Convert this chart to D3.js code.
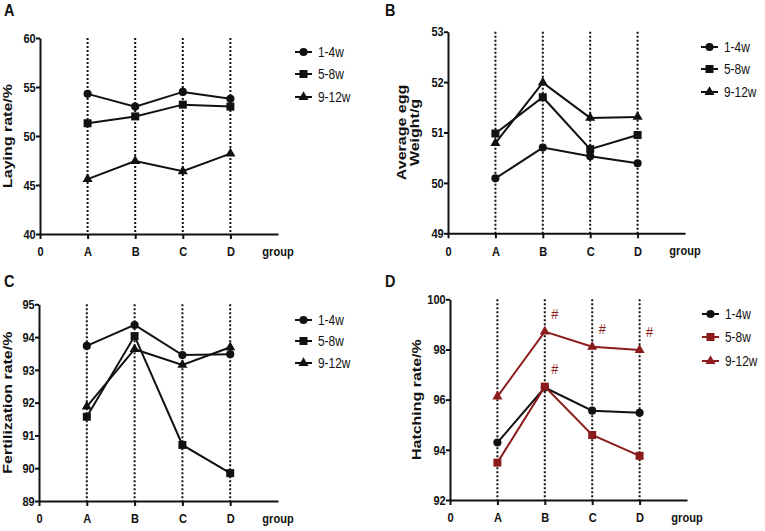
<!DOCTYPE html>
<html>
<head>
<meta charset="utf-8">
<script src="https://cdn.jsdelivr.net/npm/d3@7"></script>
<style>
  html, body { margin: 0; padding: 0; background: #fff; }
  svg { display: block; }
  text { font-family: "Liberation Sans", Arial, sans-serif; }
</style>
</head>
<body>
<svg id="chart" width="765" height="531"></svg>
<script>
// ---------- DATA ----------
const groups = ["A", "B", "C", "D"];
const xTickLabels = ["0", "A", "B", "C", "D"];
const seriesNames = ["1-4w", "5-8w", "9-12w"];

// rows: 1-4w, 5-8w, 9-12w ; columns: A, B, C, D
const layingRate = [
  [54.3, 53.0, 54.5, 53.8],
  [51.3, 52.0, 53.2, 53.0],
  [45.6, 47.45, 46.4, 48.2]
];
const eggWeight = [
  [50.09, 50.70, 50.53, 50.39],
  [50.98, 51.70, 50.67, 50.95],
  [50.79, 51.99, 51.29, 51.31]
];
const fertilizationRate = [
  [93.73, 94.37, 93.45, 93.48],
  [91.57, 94.03, 90.71, 89.85],
  [91.88, 93.63, 93.15, 93.69]
];
const hatchingRate = [
  [94.29, 96.48, 95.56, 95.48],
  [93.49, 96.52, 94.59, 93.76],
  [96.12, 98.71, 98.11, 97.98]
];

const ticksA = [40, 45, 50, 55, 60];
const ticksB = [49, 50, 51, 52, 53];
const ticksC = [89, 90, 91, 92, 93, 94, 95];
const ticksD = [92, 94, 96, 98, 100];

// significance marks in panel D: series index, group
const hashSeries = [2, 2, 2, 1];
const hashGroups = ["B", "C", "D", "B"];

// ---------- DRAW ----------
const svg = d3.select("#chart");
const RED = "#8c1c1c";
const SX = 0.85; // horizontal condensing of text

const symbols = [d3.symbolCircle, d3.symbolSquare, d3.symbolTriangle];
const symSizes = [52, 64, 44];

function panel(cfg) {
  const g = svg.append("g");
  const x = d3.scaleLinear().domain([0, 5]).range([cfg.x0, cfg.x1]);
  const y = d3.scaleLinear().domain(d3.extent(cfg.ticks)).range([cfg.yb, cfg.yt]);
  const colors = cfg.colors;

  // dotted vertical lines
  g.selectAll("line.vd").data(groups).enter().append("line")
    .attr("x1", (d, i) => x(i + 1)).attr("x2", (d, i) => x(i + 1))
    .attr("y1", cfg.yt).attr("y2", cfg.yb)
    .attr("stroke", "#111").attr("stroke-width", 2)
    .attr("stroke-dasharray", "2,2");

  // x axis
  const xa = g.append("g").attr("transform", `translate(0,${cfg.yb})`)
    .call(d3.axisBottom(x).tickValues([0, 1, 2, 3, 4])
      .tickFormat((d, i) => xTickLabels[i]).tickSize(5).tickSizeOuter(0).tickPadding(8));
  // y axis
  const ya = g.append("g").attr("transform", `translate(${cfg.x0},0)`)
    .call(d3.axisLeft(y).tickValues(cfg.ticks).tickFormat(d3.format("d"))
      .tickSize(4).tickSizeOuter(0).tickPadding(1));
  [xa, ya].forEach(a => {
    a.select(".domain").attr("stroke", "#111").attr("stroke-width", 2);
    a.selectAll(".tick line").attr("stroke", "#111").attr("stroke-width", 2);
    a.selectAll(".tick text").attr("fill", "#111")
      .style("font-size", "13px").style("font-weight", "bold")
      .attr("transform", `scale(${SX},1)`);
  });
  // "group"
  g.append("text").attr("transform", `translate(${x(5)},${cfg.yb + 22}) scale(${SX},1)`)
    .attr("text-anchor", "middle").style("font-size", "13px").style("font-weight", "bold")
    .attr("fill", "#111").text("group");

  // y title
  const yc = (cfg.yt + cfg.yb) / 2;
  cfg.title.forEach((t, i) => {
    g.append("text")
      .attr("transform", `translate(${cfg.titleX[i]},${yc}) rotate(-90) scale(1,0.78)`)
      .attr("text-anchor", "middle").style("font-size", "16px").style("font-weight", "bold")
      .attr("fill", "#111").text(t);
  });

  // panel letter
  g.append("text").attr("transform", `translate(${cfg.lx},${cfg.ly}) scale(${SX},1)`)
    .style("font-size", "17px").style("font-weight", "bold").attr("fill", "#111")
    .text(cfg.letter);

  // series lines + markers
  const line = d3.line().x((d, i) => x(i + 1)).y(d => y(d));
  cfg.data.forEach((vals, s) => {
    g.append("path").datum(vals).attr("d", line)
      .attr("fill", "none").attr("stroke", colors[s]).attr("stroke-width", 2);
    g.selectAll(null).data(vals).enter().append("path")
      .attr("d", d3.symbol().type(symbols[s]).size(symSizes[s]))
      .attr("transform", (d, i) => `translate(${x(i + 1)},${y(d)})`)
      .attr("fill", colors[s]);
  });

  // legend
  seriesNames.forEach((name, s) => {
    const ly = cfg.legY[s];
    g.append("line").attr("x1", cfg.legX).attr("x2", cfg.legX + 17)
      .attr("y1", ly).attr("y2", ly).attr("stroke", colors[s]).attr("stroke-width", 2);
    g.append("path").attr("d", d3.symbol().type(symbols[s]).size(symSizes[s]))
      .attr("transform", `translate(${cfg.legX + 8.5},${ly})`).attr("fill", colors[s]);
    g.append("text").attr("transform", `translate(${cfg.legX + 23},${ly}) scale(${SX},1)`)
      .attr("dy", "0.35em").style("font-size", "14px").attr("fill", "#111").text(name);
  });

  return { g, x, y };
}

panel({ letter: "A", lx: 4, ly: 16, x0: 40, x1: 278, yt: 38, yb: 234, ticks: ticksA,
  data: layingRate, colors: ["#111", "#111", "#111"],
  title: ["Laying rate/%"], titleX: [12],
  legX: 295, legY: [52, 74, 97] });

panel({ letter: "B", lx: 385, ly: 16, x0: 448, x1: 685, yt: 31.7, yb: 233.3, ticks: ticksB,
  data: eggWeight, colors: ["#111", "#111", "#111"],
  title: ["Average egg", "Weight/g"], titleX: [406, 419],
  legX: 701, legY: [47, 69, 92] });

panel({ letter: "C", lx: 4, ly: 287, x0: 39, x1: 278, yt: 304.3, yb: 501, ticks: ticksC,
  data: fertilizationRate, colors: ["#111", "#111", "#111"],
  title: ["Fertilization rate/%"], titleX: [12],
  legX: 295, legY: [320, 341, 363] });

const pD = panel({ letter: "D", lx: 385, ly: 287, x0: 450, x1: 687, yt: 299.3, yb: 500, ticks: ticksD,
  data: hatchingRate, colors: ["#111", RED, RED],
  title: ["Hatching rate/%"], titleX: [421],
  legX: 702, legY: [314, 337, 361] });

// # marks
hashGroups.forEach((gr, k) => {
  const gi = groups.indexOf(gr);
  const v = hatchingRate[hashSeries[k]][gi];
  pD.g.append("text")
    .attr("transform", `translate(${pD.x(gi + 1) + 10},${pD.y(v) - 13}) scale(${SX},1)`)
    .attr("text-anchor", "middle").style("font-size", "15px").attr("fill", RED).text("#");
});
</script>
</body>
</html>
